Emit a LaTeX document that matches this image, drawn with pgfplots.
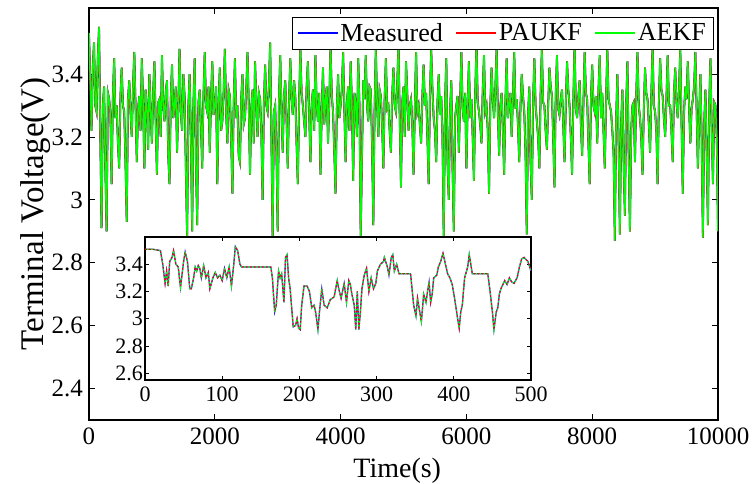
\documentclass[border=0pt]{standalone}
\usepackage{fontspec}
\setmainfont{Liberation Serif}
\usepackage{pgfplots}
\usepackage{pgfplotstable}
\pgfplotsset{compat=1.18}

\definecolor{meas}{RGB}{0,0,255}
\definecolor{pauk}{RGB}{255,0,0}
\definecolor{aekf}{RGB}{0,255,0}

% full run, 10000 s (every 20 s)
\pgfplotstableread[row sep=\\]{
t v\\
0 3.53\\ 20 3.38\\ 40 3.22\\ 60 3.42\\ 80 3.50\\ 100 3.30\\ 120 3.28\\ 140 3.45\\ 160 3.55\\ 180 3.20\\
200 2.91\\ 220 3.30\\ 240 3.36\\ 260 3.10\\ 280 2.90\\ 300 3.34\\ 320 3.32\\ 340 3.28\\ 360 3.05\\ 380 3.33\\
400 3.45\\ 420 3.26\\ 440 3.30\\ 460 3.18\\ 480 3.10\\ 500 3.33\\ 520 3.42\\ 540 3.30\\ 560 3.28\\ 580 3.12\\
600 2.93\\ 620 3.32\\ 640 3.38\\ 660 3.28\\ 680 3.20\\ 700 3.36\\ 720 3.47\\ 740 3.30\\ 760 3.12\\ 780 3.29\\
800 3.33\\ 820 3.22\\ 840 3.45\\ 860 3.31\\ 880 3.10\\ 900 3.35\\ 920 3.30\\ 940 3.16\\ 960 3.40\\ 980 3.29\\
1000 3.18\\ 1020 3.34\\ 1040 3.44\\ 1060 3.25\\ 1080 3.08\\ 1100 3.31\\ 1120 3.32\\ 1140 3.20\\ 1160 3.46\\ 1180 3.30\\
1200 3.25\\ 1220 3.34\\ 1240 3.38\\ 1260 3.14\\ 1280 3.05\\ 1300 3.32\\ 1320 3.43\\ 1340 3.26\\ 1360 3.30\\ 1380 3.36\\
1400 3.15\\ 1420 3.30\\ 1440 3.48\\ 1460 3.28\\ 1480 3.22\\ 1500 3.40\\ 1520 3.33\\ 1540 3.10\\ 1560 2.88\\ 1580 3.30\\
1600 3.40\\ 1620 3.20\\ 1640 2.90\\ 1660 3.30\\ 1680 3.45\\ 1700 3.12\\ 1720 2.92\\ 1740 3.31\\ 1760 3.35\\ 1780 3.24\\
1800 3.10\\ 1820 3.33\\ 1840 3.47\\ 1860 3.30\\ 1880 3.28\\ 1900 3.36\\ 1920 3.15\\ 1940 3.32\\ 1960 3.44\\ 1980 3.27\\
2000 3.30\\ 2020 3.36\\ 2040 3.05\\ 2060 3.30\\ 2080 3.42\\ 2100 3.22\\ 2120 3.25\\ 2140 3.34\\ 2160 3.48\\ 2180 3.28\\
2200 3.18\\ 2220 3.35\\ 2240 3.33\\ 2260 3.20\\ 2280 3.02\\ 2300 3.30\\ 2320 3.45\\ 2340 3.26\\ 2360 3.30\\ 2380 3.14\\
2400 3.12\\ 2420 3.32\\ 2440 3.40\\ 2460 3.24\\ 2480 3.26\\ 2500 3.35\\ 2520 3.47\\ 2540 3.30\\ 2560 3.08\\ 2580 3.29\\
2600 3.35\\ 2620 3.18\\ 2640 3.44\\ 2660 3.31\\ 2680 3.20\\ 2700 3.34\\ 2720 3.32\\ 2740 3.22\\ 2760 3.00\\ 2780 3.30\\
2800 3.43\\ 2820 3.30\\ 2840 3.28\\ 2860 3.36\\ 2880 3.50\\ 2900 3.20\\ 2920 2.88\\ 2940 3.28\\ 2960 3.30\\ 2980 3.15\\
3000 2.90\\ 3020 3.32\\ 3040 3.46\\ 3060 3.29\\ 3080 3.15\\ 3100 3.33\\ 3120 3.38\\ 3140 3.26\\ 3160 3.10\\ 3180 3.31\\
3200 3.45\\ 3220 3.32\\ 3240 3.27\\ 3260 3.38\\ 3280 3.33\\ 3300 3.18\\ 3320 3.05\\ 3340 3.30\\ 3360 3.48\\ 3380 3.34\\
3400 3.30\\ 3420 3.25\\ 3440 3.20\\ 3460 3.36\\ 3480 3.44\\ 3500 3.28\\ 3520 3.12\\ 3540 3.30\\ 3560 3.35\\ 3580 3.22\\
3600 3.46\\ 3620 3.30\\ 3640 3.25\\ 3660 3.34\\ 3680 3.08\\ 3700 3.28\\ 3720 3.42\\ 3740 3.24\\ 3760 3.32\\ 3780 3.36\\
3800 3.18\\ 3820 3.31\\ 3840 3.49\\ 3860 3.33\\ 3880 3.28\\ 3900 3.15\\ 3920 3.02\\ 3940 3.29\\ 3960 3.40\\ 3980 3.26\\
4000 3.30\\ 4020 3.35\\ 4040 3.47\\ 4060 3.28\\ 4080 3.12\\ 4100 3.31\\ 4120 3.36\\ 4140 3.22\\ 4160 3.44\\ 4180 3.30\\
4200 3.06\\ 4220 3.34\\ 4240 3.31\\ 4260 3.20\\ 4280 3.45\\ 4300 3.30\\ 4320 2.88\\ 4340 3.14\\ 4360 3.38\\ 4380 3.32\\
4400 3.46\\ 4420 3.30\\ 4440 3.25\\ 4460 3.36\\ 4480 3.35\\ 4500 3.18\\ 4520 2.92\\ 4540 3.28\\ 4560 3.48\\ 4580 3.31\\
4600 3.20\\ 4620 3.35\\ 4640 3.33\\ 4660 3.24\\ 4680 3.10\\ 4700 3.32\\ 4720 3.45\\ 4740 3.29\\ 4760 3.30\\ 4780 3.22\\
4800 3.15\\ 4820 3.33\\ 4840 3.42\\ 4860 3.30\\ 4880 3.28\\ 4900 3.36\\ 4920 3.50\\ 4940 3.26\\ 4960 3.04\\ 4980 3.31\\
5000 3.36\\ 5020 3.20\\ 5040 3.44\\ 5060 3.34\\ 5080 3.22\\ 5100 3.30\\ 5120 3.32\\ 5140 3.24\\ 5160 3.08\\ 5180 3.29\\
5200 3.47\\ 5220 3.28\\ 5240 3.30\\ 5260 3.24\\ 5280 3.18\\ 5300 3.33\\ 5320 3.43\\ 5340 3.30\\ 5360 3.34\\ 5380 3.20\\
5400 3.05\\ 5420 3.32\\ 5440 3.48\\ 5460 3.35\\ 5480 3.26\\ 5500 3.22\\ 5520 3.12\\ 5540 3.31\\ 5560 3.40\\ 5580 3.27\\
5600 3.33\\ 5620 3.20\\ 5640 2.88\\ 5660 3.30\\ 5680 3.45\\ 5700 3.12\\ 5720 3.00\\ 5740 3.28\\ 5760 3.38\\ 5780 3.10\\
5800 2.90\\ 5820 3.26\\ 5840 3.30\\ 5860 3.33\\ 5880 3.15\\ 5900 3.31\\ 5920 3.47\\ 5940 3.29\\ 5960 3.25\\ 5980 3.34\\
6000 3.10\\ 6020 3.30\\ 6040 3.44\\ 6060 3.26\\ 6080 3.32\\ 6100 3.20\\ 6120 3.06\\ 6140 3.33\\ 6160 3.50\\ 6180 3.31\\
6200 3.28\\ 6220 3.24\\ 6240 3.18\\ 6260 3.35\\ 6280 3.46\\ 6300 3.28\\ 6320 3.30\\ 6340 3.22\\ 6360 3.02\\ 6380 3.30\\
6400 3.42\\ 6420 3.32\\ 6440 3.26\\ 6460 3.35\\ 6480 3.48\\ 6500 3.28\\ 6520 3.14\\ 6540 3.30\\ 6560 3.34\\ 6580 3.22\\
6600 3.08\\ 6620 3.31\\ 6640 3.45\\ 6660 3.26\\ 6680 3.30\\ 6700 3.34\\ 6720 3.20\\ 6740 3.33\\ 6760 3.47\\ 6780 3.29\\
6800 3.32\\ 6820 3.24\\ 6840 3.12\\ 6860 3.30\\ 6880 3.40\\ 6900 3.33\\ 6920 3.28\\ 6940 3.15\\ 6960 2.89\\ 6980 3.27\\
7000 3.36\\ 7020 3.12\\ 7040 3.00\\ 7060 3.31\\ 7080 3.45\\ 7100 3.30\\ 7120 3.25\\ 7140 3.20\\ 7160 3.10\\ 7180 3.34\\
7200 3.48\\ 7220 3.31\\ 7240 3.30\\ 7260 3.22\\ 7280 3.16\\ 7300 3.30\\ 7320 3.42\\ 7340 3.36\\ 7360 3.33\\ 7380 3.20\\
7400 3.04\\ 7420 3.33\\ 7440 3.46\\ 7460 3.29\\ 7480 3.27\\ 7500 3.32\\ 7520 3.35\\ 7540 3.24\\ 7560 3.12\\ 7580 3.30\\
7600 3.44\\ 7620 3.35\\ 7640 3.30\\ 7660 3.20\\ 7680 3.08\\ 7700 3.31\\ 7720 3.50\\ 7740 3.29\\ 7760 3.26\\ 7780 3.33\\
7800 3.38\\ 7820 3.24\\ 7840 3.14\\ 7860 3.30\\ 7880 3.47\\ 7900 3.34\\ 7920 3.32\\ 7940 3.18\\ 7960 3.05\\ 7980 3.32\\
8000 3.43\\ 8020 3.30\\ 8040 3.28\\ 8060 3.33\\ 8080 3.18\\ 8100 3.35\\ 8120 3.46\\ 8140 3.26\\ 8160 3.34\\ 8180 3.22\\
8200 3.10\\ 8220 3.31\\ 8240 3.48\\ 8260 3.32\\ 8280 3.30\\ 8300 3.28\\ 8320 3.22\\ 8340 3.15\\ 8360 2.87\\ 8380 3.25\\
8400 3.40\\ 8420 3.18\\ 8440 2.89\\ 8460 3.24\\ 8480 3.35\\ 8500 3.12\\ 8520 2.95\\ 8540 3.30\\ 8560 3.44\\ 8580 3.14\\
8600 2.90\\ 8620 3.22\\ 8640 3.30\\ 8660 3.31\\ 8680 3.12\\ 8700 3.33\\ 8720 3.47\\ 8740 3.30\\ 8760 3.26\\ 8780 3.20\\
8800 3.08\\ 8820 3.28\\ 8840 3.42\\ 8860 3.34\\ 8880 3.32\\ 8900 3.24\\ 8920 3.15\\ 8940 3.33\\ 8960 3.49\\ 8980 3.30\\
9000 3.28\\ 9020 3.22\\ 9040 3.05\\ 9060 3.31\\ 9080 3.45\\ 9100 3.35\\ 9120 3.33\\ 9140 3.26\\ 9160 3.20\\ 9180 3.32\\
9200 3.46\\ 9220 3.30\\ 9240 3.30\\ 9260 3.22\\ 9280 3.12\\ 9300 3.34\\ 9320 3.42\\ 9340 3.31\\ 9360 3.26\\ 9380 3.35\\
9400 3.48\\ 9420 3.25\\ 9440 3.02\\ 9460 3.28\\ 9480 3.36\\ 9500 3.32\\ 9520 3.44\\ 9540 3.30\\ 9560 3.18\\ 9580 3.29\\
9600 3.32\\ 9620 3.36\\ 9640 3.47\\ 9660 3.29\\ 9680 3.10\\ 9700 3.26\\ 9720 3.40\\ 9740 3.20\\ 9760 2.88\\ 9780 3.24\\
9800 3.35\\ 9820 3.15\\ 9840 2.92\\ 9860 3.30\\ 9880 3.45\\ 9900 3.22\\ 9920 3.05\\ 9940 3.31\\ 9960 3.30\\ 9980 3.20\\
10000 2.90\\
}\fulldata

% first 500 s, for the inset
\pgfplotstableread[row sep=\\]{
t v\\
0 3.51\\ 10 3.51\\ 20 3.50\\ 23 3.40\\ 26 3.26\\ 28 3.35\\ 30 3.24\\ 32 3.42\\ 35 3.45\\ 37 3.50\\
40 3.40\\ 43 3.38\\ 46 3.23\\ 50 3.42\\ 52 3.49\\ 55 3.42\\ 58 3.22\\ 60 3.22\\ 63 3.30\\ 65 3.38\\
67 3.35\\ 69 3.39\\ 71 3.37\\ 73 3.30\\ 76 3.39\\ 79 3.30\\ 82 3.34\\ 84 3.22\\ 88 3.30\\ 91 3.34\\
94 3.30\\ 97 3.32\\ 100 3.28\\ 103 3.37\\ 106 3.30\\ 109 3.38\\ 112 3.24\\ 115 3.40\\ 117 3.53\\ 120 3.50\\
123 3.40\\ 125 3.38\\ 163 3.38\\ 165 3.30\\ 168 3.05\\ 170 3.10\\ 173 3.35\\ 175 3.30\\ 177 3.33\\ 180 3.12\\
182 3.45\\ 184 3.47\\ 186 3.30\\ 188 3.22\\ 192 2.94\\ 195 2.95\\ 197 3.00\\ 199 2.93\\ 201 2.92\\ 203 3.10\\
206 3.24\\ 210 3.24\\ 213 3.20\\ 216 3.08\\ 219 3.10\\ 221 3.05\\ 224 2.92\\ 226 3.05\\ 229 3.22\\ 232 3.10\\
236 3.08\\ 240 3.14\\ 245 3.16\\ 249 3.28\\ 251 3.22\\ 254 3.15\\ 258 3.26\\ 261 3.12\\ 264 3.28\\ 266 3.25\\
268 3.18\\ 271 3.10\\ 273 2.92\\ 275 3.20\\ 277 2.92\\ 279 3.05\\ 281 3.22\\ 284 3.32\\ 287 3.37\\ 290 3.20\\
293 3.30\\ 296 3.22\\ 299 3.26\\ 301 3.35\\ 305 3.40\\ 309 3.42\\ 310 3.45\\ 314 3.38\\ 316 3.32\\ 319 3.45\\
321 3.47\\ 323 3.35\\ 326 3.40\\ 329 3.33\\ 344 3.33\\ 348 3.10\\ 351 3.02\\ 353 3.15\\ 355 3.08\\ 358 2.98\\
361 3.18\\ 364 3.12\\ 366 3.20\\ 368 3.27\\ 370 3.12\\ 372 3.18\\ 374 3.30\\ 378 3.32\\ 380 3.38\\ 383 3.42\\
386 3.48\\ 388 3.43\\ 392 3.33\\ 395 3.30\\ 398 3.25\\ 401 3.15\\ 405 3.00\\ 407 2.93\\ 409 3.05\\ 411 3.10\\
414 3.30\\ 418 3.38\\ 420 3.47\\ 422 3.40\\ 424 3.33\\ 444 3.33\\ 447 3.20\\ 450 3.05\\ 452 2.92\\ 455 3.05\\
457 3.08\\ 459 3.18\\ 461 3.22\\ 466 3.28\\ 469 3.25\\ 472 3.30\\ 475 3.27\\ 478 3.26\\ 482 3.30\\ 485 3.38\\
488 3.44\\ 491 3.45\\ 496 3.42\\ 500 3.35\\
}\zoomdata

\pgfplotsset{
  mlab/.style={
    scale only axis,
    tick align=inside, tick pos=both,
    major tick length=6bp,
    axis line style={line width=1.2bp},
    every tick/.style={black, line width=0.8bp},
    /pgf/number format/assume math mode=true,
    /pgf/number format/1000 sep={},
    scaled ticks=false,
  },
}

\begin{document}
\begin{tikzpicture}
\useasboundingbox (-89bp,-64bp) rectangle (664bp,420bp);

\begin{axis}[mlab,
  at={(0bp,0bp)}, anchor=south west,
  width=629bp, height=412bp,
  xmin=0, xmax=10000, ymin=2.3, ymax=3.61,
  xtick={0,2000,4000,6000,8000,10000},
  ytick={2.4,2.6,2.8,3,3.2,3.4},
  xticklabel style={font=\fontsize{25bp}{28bp}\selectfont, anchor=north, inner sep=0pt, yshift=-8bp},
  yticklabel style={font=\fontsize{25bp}{28bp}\selectfont, anchor=east, inner sep=0pt, xshift=-6bp},
  xlabel={Time(s)},
  ylabel={Terminal Voltage(V)},
  xlabel style={font=\fontsize{28bp}{30bp}\selectfont, at={(axis description cs:0.49,0)}, anchor=base, yshift=-57bp},
  ylabel style={font=\fontsize{33bp}{35bp}\selectfont, at={(axis description cs:-0.0731,0.5)}, anchor=base},
  legend columns=3,
  legend style={at={(axis description cs:0.992,0.978)}, anchor=north east,
    font=\fontsize{26bp}{28bp}\selectfont,
    inner xsep=5bp, inner ysep=4bp,
    /tikz/every even column/.append style={column sep=11bp}},
  legend image code/.code={\draw[#1, line width=1.1bp] (0bp,0bp) -- (40bp,0bp);},
]
\addplot[draw=meas, line width=1.8bp] table[x=t, y=v] {\fulldata};
\addlegendentry{Measured}
\addplot[draw=pauk, line width=1.7bp] table[x=t, y=v] {\fulldata};
\addlegendentry{PAUKF}
\addplot[draw=aekf, line width=1.5bp] table[x=t, y=v] {\fulldata};
\addlegendentry{AEKF}
\end{axis}

\begin{axis}[mlab,
  at={(56bp,40bp)}, anchor=south west,
  width=386bp, height=143bp,
  axis background/.style={fill=white},
  xmin=0, xmax=500, ymin=2.55, ymax=3.6,
  xtick={0,100,200,300,400,500},
  ytick={2.6,2.8,3,3.2,3.4},
  major tick length=4bp,
  xticklabel style={font=\fontsize{22bp}{24bp}\selectfont, anchor=north, inner sep=0pt, yshift=-7bp},
  yticklabel style={font=\fontsize{22bp}{24bp}\selectfont, anchor=east, inner sep=0pt, xshift=-2bp},
]
\addplot[meas!60!gray, line width=1.3bp] table[x=t, y=v] {\zoomdata};
\addplot[pauk, line width=1.1bp, dash pattern=on 1.5bp off 2.5bp] table[x=t, y=v] {\zoomdata};
\addplot[aekf, line width=1.1bp, dash pattern=on 1.5bp off 2.5bp, dash phase=2bp] table[x=t, y=v] {\zoomdata};
\end{axis}
\end{tikzpicture}
\end{document}
